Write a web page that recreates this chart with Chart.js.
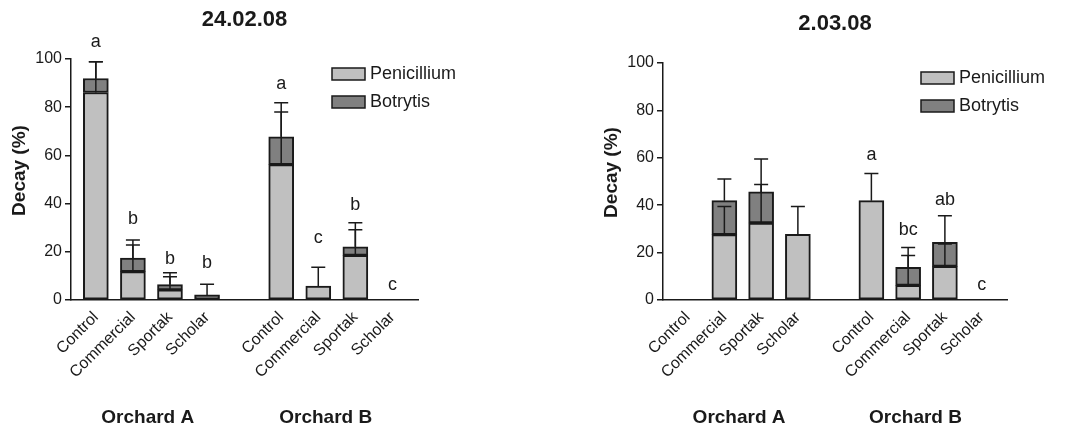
<!DOCTYPE html>
<html>
<head>
<meta charset="utf-8">
<script src="https://cdn.jsdelivr.net/npm/chart.js@4.4.1/dist/chart.umd.min.js"></script>
<style>
  body { margin: 0; background: #fff; }
  .wrap { display: flex; width: 1070px; height: 432px; }
  .box { position: relative; width: 535px; height: 432px; }
</style>
</head>
<body>
<div class="wrap">
  <div class="box"><canvas id="chart-24-02"></canvas></div>
  <div class="box"><canvas id="chart-2-03"></canvas></div>
</div>
<script>
// slot 4 is the empty gap between the two orchards
const slots = [0, 1, 2, 3, 5, 6, 7, 8];
const treatments = ["Control", "Commercial", "Sportak", "Scholar", "Control", "Commercial", "Sportak", "Scholar"];
const orchards = ["Orchard A", "Orchard B"];
const orchardAt = [1.4, 6.2];

// 24.02.08
const peni1 = [86.1, 11.8, 4.2, 0, 56.2, 5.8, 18.5, 0];
const botr1 = [5.8, 5.6, 2.2, 2.1, 11.5, 0, 3.6, 0];
const peniErr1 = [12.8, 11.0, 5.4, 0, 21.8, 7.8, 10.7, 0];
const botrErr1 = [7.0, 7.5, 4.9, 4.4, 14.1, 0, 10.0, 0];
const letters1 = ["a", "b", "b", "b", "a", "c", "b", "c"];
const letterAt1 = [107, 33.5, 16.8, 15.4, 89.8, 25.6, 39.5, 6.1];

// 2.03.08
const peni2 = [0, 27.6, 32.5, 27.7, 41.9, 6.2, 14.2, 0];
const botr2 = [0, 14.3, 13.1, 0, 0, 7.6, 10.1, 0];
const peniErr2 = [0, 11.9, 16.2, 11.8, 11.5, 12.6, 9.4, 0];
const botrErr2 = [0, 9.2, 13.9, 0, 0, 8.4, 11.3, 0];
const letters2 = ["", "", "", "", "a", "bc", "ab", "c"];
const letterAt2 = [0, 0, 0, 0, 61.3, 29.7, 42.3, 6.5];

const yTicks = [0, 20, 40, 60, 80, 100];

const INK = "#1a1a1a";
const FONT = "'Liberation Sans', Arial, Helvetica, sans-serif";
Chart.defaults.font.family = FONT;
Chart.defaults.color = INK;

function createChart(chartid, title, peni, botr, peniErr, botrErr, letters, letterAt, padding) {
  const extras = {
    id: "extras",
    afterDatasetsDraw(chart) {
      const ctx = chart.ctx;
      const x = chart.scales.x, y = chart.scales.y;
      const area = chart.chartArea;
      ctx.save();
      ctx.strokeStyle = INK;
      ctx.fillStyle = INK;
      ctx.lineWidth = 1.5;

      // error bars + significance letters
      slots.forEach((s, i) => {
        const px = x.getPixelForValue(s);
        [[peni[i], peniErr[i]], [peni[i] + botr[i], botrErr[i]]].forEach(([from, err]) => {
          if (!err) return;
          const y0 = y.getPixelForValue(from), y1 = y.getPixelForValue(from + err);
          ctx.beginPath();
          ctx.moveTo(px, y0); ctx.lineTo(px, y1);
          ctx.moveTo(px - 7, y1); ctx.lineTo(px + 7, y1);
          ctx.stroke();
        });
        if (letters[i]) {
          ctx.font = "18px " + FONT;
          ctx.textAlign = "center";
          ctx.textBaseline = "middle";
          ctx.fillText(letters[i], px, y.getPixelForValue(letterAt[i]));
        }
      });

      // title
      ctx.font = "bold 22px " + FONT;
      ctx.textAlign = "center";
      ctx.textBaseline = "middle";
      ctx.fillText(title, (area.left + area.right) / 2, area.top - 39);

      // orchard labels
      ctx.font = "bold 19px " + FONT;
      orchards.forEach((o, k) => ctx.fillText(o, x.getPixelForValue(orchardAt[k]), chart.height - 14));

      // y title
      ctx.save();
      ctx.translate(area.left - 51, (area.top + area.bottom) / 2 - 9);
      ctx.rotate(-Math.PI / 2);
      ctx.fillText("Decay (%)", 0, 0);
      ctx.restore();

      // legend
      ctx.font = "18px " + FONT;
      ctx.textAlign = "left";
      chart.data.datasets.forEach((ds, k) => {
        const bx = area.right - 86, by = area.top + 9 + k * 28;
        ctx.fillStyle = ds.backgroundColor;
        ctx.fillRect(bx, by, 33, 12);
        ctx.strokeRect(bx, by, 33, 12);
        ctx.fillStyle = INK;
        ctx.fillText(ds.label, bx + 38, by + 6);
      });
      ctx.restore();
    },
  };

  const data = {
    datasets: [
      {
        label: "Penicillium",
        data: slots.map((s, i) => ({ x: s, y: peni[i] })),
        backgroundColor: "#c0c0c0",
      },
      {
        label: "Botrytis",
        data: slots.map((s, i) => ({ x: s, y: botr[i] })),
        backgroundColor: "#808080",
      },
    ],
  };

  const options = {
    responsive: true,
    maintainAspectRatio: false,
    animation: false,
    layout: { padding: padding },
    datasets: {
      bar: { barThickness: 25, borderColor: INK, borderWidth: 2, borderSkipped: false },
    },
    plugins: { legend: { display: false }, tooltip: { enabled: false } },
    scales: {
      x: {
        type: "linear",
        stacked: true,
        offset: false,
        min: -0.67,
        max: 8.69,
        afterBuildTicks: (s) => { s.ticks = slots.map((v) => ({ value: v })); },
        afterFit: (s) => { s.height = 132; },
        grid: { display: false, drawTicks: false, offset: false },
        border: { display: true, color: INK, width: 1.5 },
        ticks: {
          autoSkip: false,
          minRotation: 45,
          maxRotation: 45,
          padding: 8,
          font: { size: 16 },
          callback: (v, i) => treatments[i],
        },
      },
      y: {
        stacked: true,
        min: 0,
        max: 100,
        afterBuildTicks: (s) => { s.ticks = yTicks.map((v) => ({ value: v })); },
        afterFit: (s) => { s.width = 71; },
        grid: { drawOnChartArea: false, drawTicks: true, tickLength: 6, color: INK, lineWidth: 1.5 },
        border: { display: true, color: INK, width: 1.5 },
        ticks: { padding: 3, font: { size: 16 } },
      },
    },
  };

  const config = { type: "bar", data: data, options: options, plugins: [extras] };
  return new Chart(document.getElementById(chartid), config);
}

const chart24 = createChart("chart-24-02", "24.02.08", peni1, botr1, peniErr1, botrErr1, letters1, letterAt1,
  { left: 0, right: 117, top: 59, bottom: 0 });

const chart02 = createChart("chart-2-03", "2.03.08", peni2, botr2, peniErr2, botrErr2, letters2, letterAt2,
  { left: 57, right: 63, top: 63, bottom: 0 });
</script>
</body>
</html>
